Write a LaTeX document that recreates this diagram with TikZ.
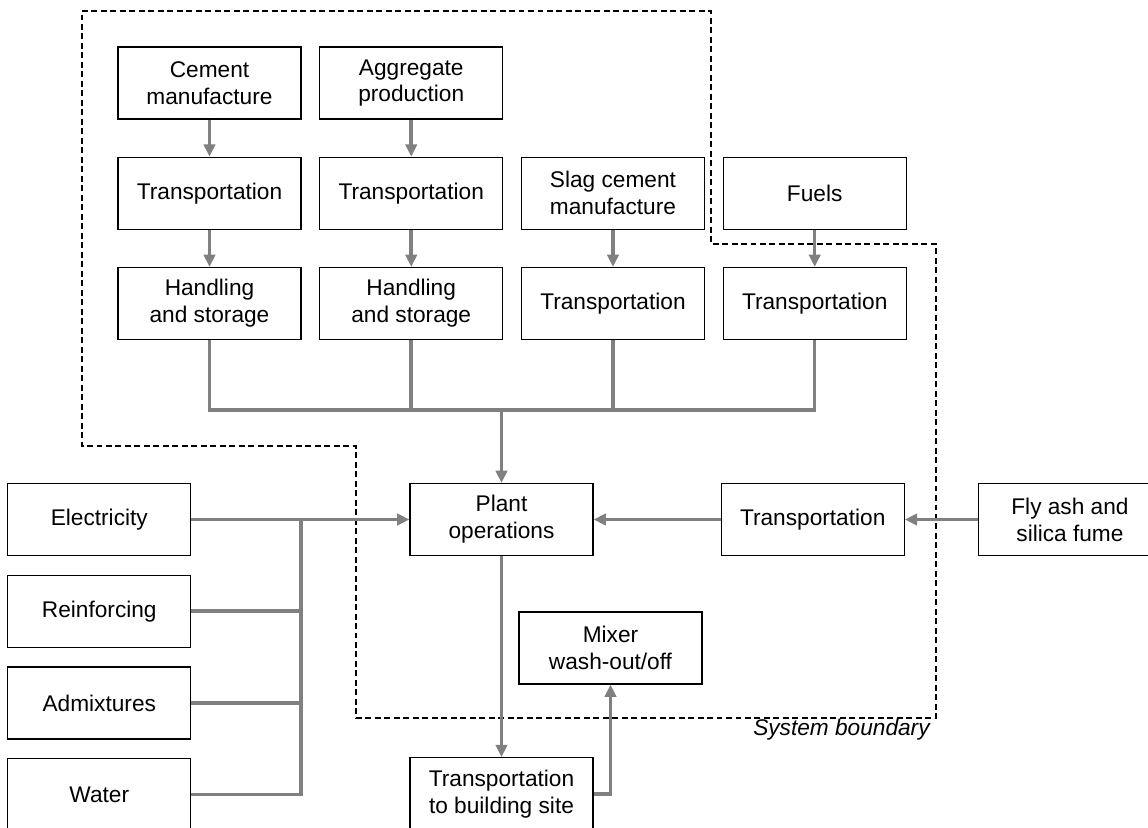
\documentclass[tikz,border=0pt]{standalone}
\usepackage{fontspec}
\setmainfont{Liberation Sans}
\usetikzlibrary{positioning,arrows.meta}
\definecolor{flowgray}{RGB}{128,128,128}

\begin{document}
\begin{tikzpicture}
	\tikzstyle{box}=[rectangle, draw=black, line width=0.7pt, minimum width=3.66cm, minimum height=1.44cm, align=center, inner sep=1pt, font=\fontsize{12.9}{15.3}\selectfont]
\tikzstyle{connect}=[-{Triangle[length=7pt,width=6.5pt]}, line width=2pt, draw=flowgray]
\tikzstyle{flow}=[line width=2pt, draw=flowgray]
\tikzstyle{boundary}=[draw=black, line width=1.3pt, dash pattern=on 3.4pt off 2pt]
  \useasboundingbox (0,0) rectangle (22.96,-16.54);
  % system boundary
  \draw[boundary] (1.64,-0.22) -- (14.22,-0.22) -- (14.22,-4.88) -- (18.72,-4.88) -- (18.72,-14.36) -- (7.12,-14.36) -- (7.12,-8.92) -- (1.64,-8.92) -- cycle;
  \node[font=\fontsize{12.9}{15.3}\selectfont\itshape, anchor=base east, inner sep=0pt] (sysb) at (18.6,-14.70) {System boundary};
  % upstream materials
  \node[box] (cem) at (4.19,-1.66) {Cement\\manufacture};
  \node[box] (agg) [right=0.35cm of cem] {Aggregate\\production};
  \node[box] (tcem) [below=0.74cm of cem] {Transportation};
  \node[box] (tagg) [below=0.74cm of agg] {Transportation};
  \node[box] (slag) [right=0.35cm of tagg] {Slag cement\\manufacture};
  \node[box] (fuel) [right=0.35cm of slag] {Fuels};
  \node[box] (hcem) [below=0.74cm of tcem] {Handling\\and storage};
  \node[box] (hagg) [below=0.74cm of tagg] {Handling\\and storage};
  \node[box] (tslag) [below=0.74cm of slag] {Transportation};
  \node[box] (tfuel) [below=0.74cm of fuel] {Transportation};
  % plant
  \node[box] (plant) at (10.03,-10.39) {Plant\\operations};
  \node[box] (elec) [left=4.36cm of plant] {Electricity};
  \node[box] (reinf) [below=0.37cm of elec] {Reinforcing};
  \node[box] (admix) [below=0.37cm of reinf] {Admixtures};
  \node[box] (water) [below=0.37cm of admix] {Water};
  \node[box] (ttrans) [right=2.54cm of plant] {Transportation};
  \node[box] (fly) [right=1.46cm of ttrans] {Fly ash and\\silica fume};
  \node[box] (mix) at (12.21,-12.96) {Mixer\\wash-out/off};
  \node[box] (site) [below=4.02cm of plant] {Transportation\\to building site};
  \coordinate (bus) at (0,-8.2);
  \coordinate (jn) at (6.02,-10.39);
  \path 
        (cem) edge [connect] (tcem)
        (agg) edge [connect] (tagg)
        (tcem) edge [connect] (hcem)
        (tagg) edge [connect] (hagg)
        (slag) edge [connect] (tslag)
        (fuel) edge [connect] (tfuel)
        (elec) edge [connect] (plant)
        (ttrans) edge [connect] (plant)
        (fly) edge [connect] (ttrans)
        (plant) edge [connect] (site);
  \draw[flow] (hcem) -- (hcem |- bus) -- (tfuel |- bus) -- (tfuel);
  \draw[flow] (hagg) -- (hagg |- bus);
  \draw[flow] (tslag) -- (tslag |- bus);
  \draw[connect] (plant |- bus) -- (plant);
  \draw[flow] (water) -| (jn);
  \draw[flow] (reinf) -- (reinf -| jn);
  \draw[flow] (admix) -- (admix -| jn);
  \draw[connect] (site) -| (mix);

	\end{tikzpicture}
\end{document}
